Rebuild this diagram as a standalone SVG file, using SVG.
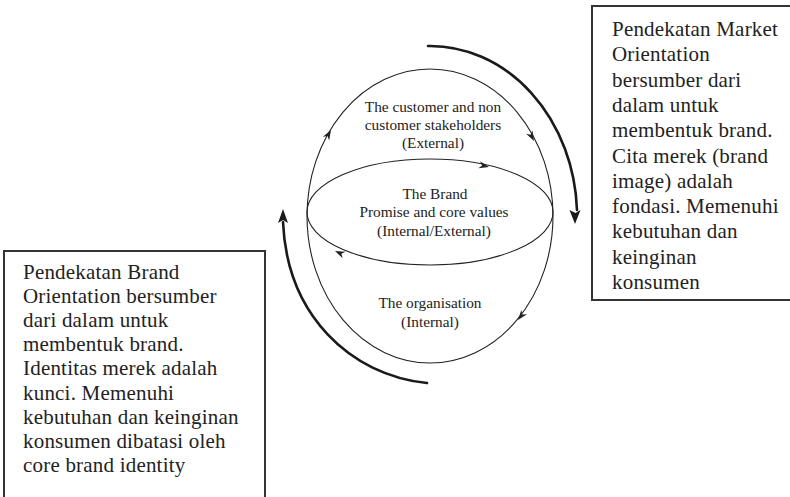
<svg xmlns="http://www.w3.org/2000/svg" xmlns:xlink="http://www.w3.org/1999/xlink" width="790" height="497" viewBox="0 0 790 497">
<style>
.bg{fill:#ffffff}
.thin{fill:none;stroke:#222;stroke-width:1.1}
.thick{fill:none;stroke:#1a1a1a;stroke-width:2.6;stroke-linecap:round}
.box{fill:#ffffff;stroke:#333;stroke-width:2}
.lbl{font-family:"Liberation Serif","Times New Roman",serif;font-size:15.3px;fill:#222;text-anchor:middle}
.note{font-family:"Liberation Serif","Times New Roman",serif;font-size:21px;letter-spacing:0.2px;fill:#222}
.ah{fill:#222}
.bh{fill:#1a1a1a}
</style>
<defs>
<path id="ah" d="M0,0 L-10,-3.6 L-7,0 L-10,3.6 Z"/>
</defs>
<rect class="bg" x="0" y="0" width="790" height="497"/>

<g id="node-external">
<ellipse class="thin" cx="430" cy="216" rx="123" ry="147"/>
<text class="lbl" x="433" y="112">The customer and non</text>
<text class="lbl" x="433" y="130">customer stakeholders</text>
<text class="lbl" x="433" y="148">(External)</text>
</g>

<g id="node-brand">
<ellipse class="thin" cx="430" cy="212" rx="123" ry="53"/>
<text class="lbl" x="435" y="199">The Brand</text>
<text class="lbl" x="434" y="217">Promise and core values</text>
<text class="lbl" x="434" y="236">(Internal/External)</text>
</g>

<g id="node-organisation">
<text class="lbl" x="430" y="308">The organisation</text>
<text class="lbl" x="430" y="327">(Internal)</text>
</g>

<g id="node-market-orientation">
<rect class="box" x="592" y="6" width="220" height="294"/>
<text class="note" x="612" y="36">Pendekatan Market</text>
<text class="note" x="612" y="61.3">Orientation</text>
<text class="note" x="612" y="86.6">bersumber dari</text>
<text class="note" x="612" y="111.9">dalam untuk</text>
<text class="note" x="612" y="137.2">membentuk brand.</text>
<text class="note" x="612" y="162.5">Cita merek (brand</text>
<text class="note" x="612" y="187.8">image) adalah</text>
<text class="note" x="612" y="213.1">fondasi. Memenuhi</text>
<text class="note" x="612" y="238.4">kebutuhan dan</text>
<text class="note" x="612" y="263.7">keinginan</text>
<text class="note" x="612" y="289">konsumen</text>
</g>

<g id="node-brand-orientation">
<rect class="box" x="4" y="251" width="261" height="260"/>
<text class="note" x="23" y="279">Pendekatan Brand</text>
<text class="note" x="23" y="303.1">Orientation bersumber</text>
<text class="note" x="23" y="327.2">dari dalam untuk</text>
<text class="note" x="23" y="351.3">membentuk brand.</text>
<text class="note" x="23" y="375.4">Identitas merek adalah</text>
<text class="note" x="23" y="399.5">kunci. Memenuhi</text>
<text class="note" x="23" y="423.6">kebutuhan dan keinginan</text>
<text class="note" x="23" y="447.7">konsumen dibatasi oleh</text>
<text class="note" x="23" y="471.8">core brand identity</text>
</g>

<g id="connectors">
<use xlink:href="#ah" class="ah" transform="translate(331,130) rotate(-60)"/>
<use xlink:href="#ah" class="ah" transform="translate(534,141) rotate(62)"/>
<use xlink:href="#ah" class="ah" transform="translate(518,320) rotate(128)"/>
<use xlink:href="#ah" class="ah" transform="translate(489,167) rotate(12.5)"/>
<use xlink:href="#ah" class="ah" transform="translate(335,251) rotate(-156)"/>

<path class="thick" d="M428,46 A147,171 0 0 1 577,210"/>
<path class="bh" d="M575,224 L569.5,210 L575.5,213 L580.5,210 Z"/>

<path class="thick" d="M427,383 C350,375 287,315 283,222"/>
<path class="bh" d="M283,209 L278,223 L283,220 L288,223 Z"/>
</g>
</svg>
